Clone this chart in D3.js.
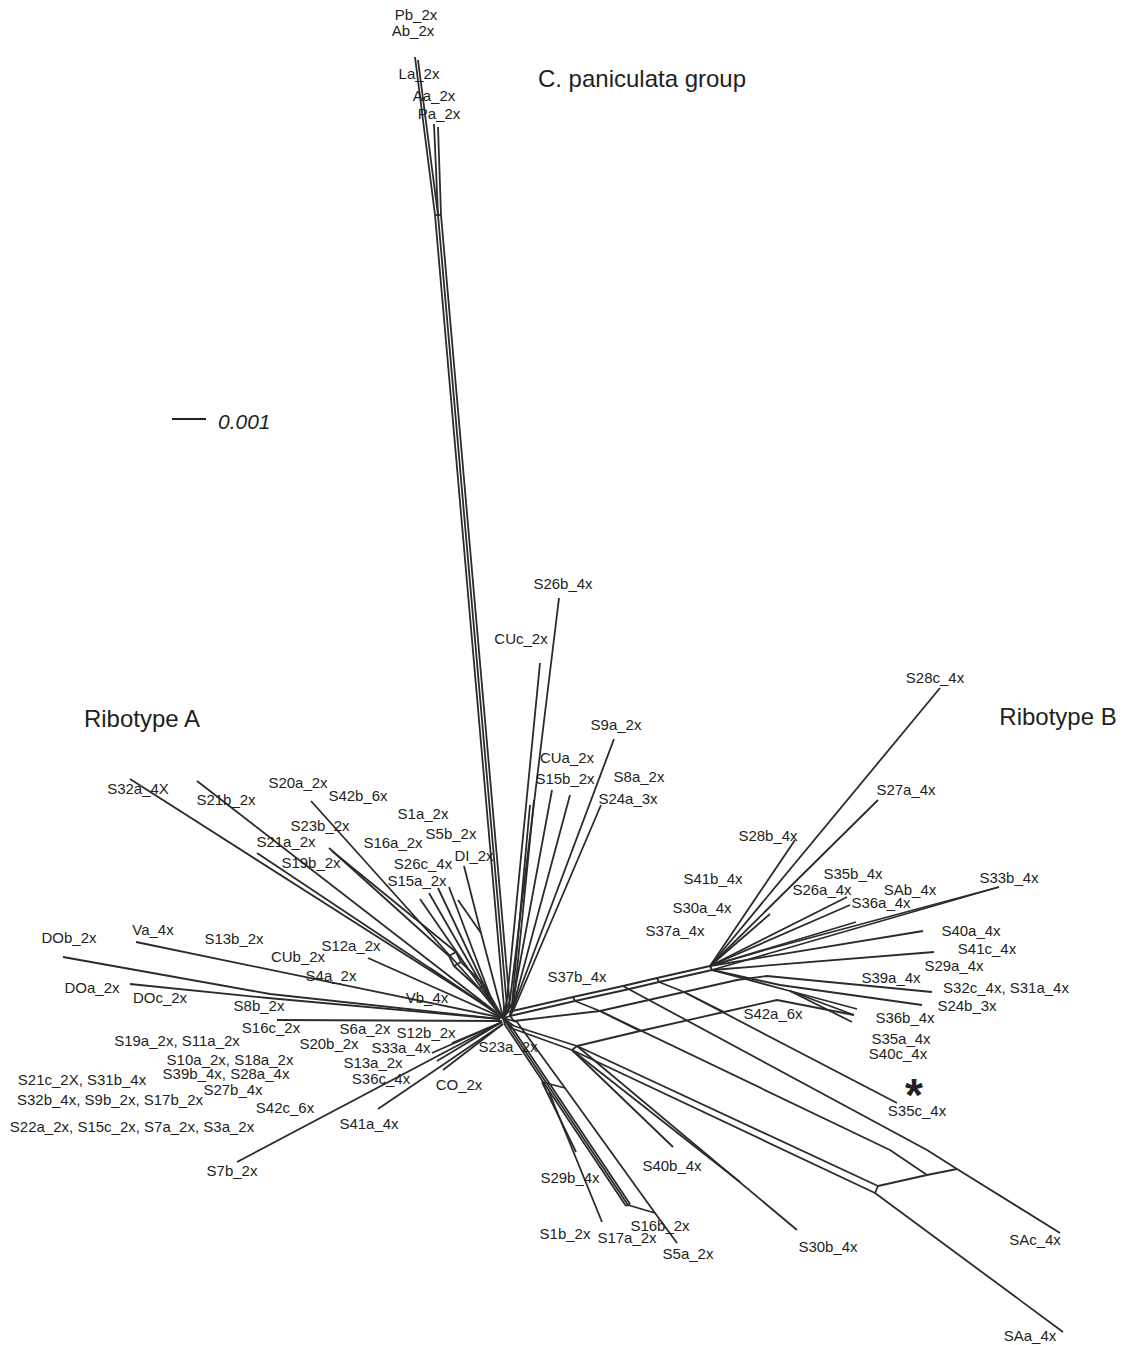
<!DOCTYPE html>
<html>
<head>
<meta charset="utf-8">
<script src="https://cdn.jsdelivr.net/npm/d3@7"></script>
<style>
  body { margin: 0; background: #fff; }
  svg { display: block; }
</style>
</head>
<body>
<script>
// Split network (NeighborNet) of ITS ribotypes.
// Node positions are in layout units centred on the central hub, y pointing up;
// 34 layout units correspond to 0.001 substitutions per site.

const W = 1124, H = 1345;
const unitsPerSubst = 34000;
const scaleBarValue = 0.001;

// ---- nodes: [id, x, y] ----
const hubNodes = [
  ["c0", -2, 0], ["cL", -5, -1], ["cR", 5, 2], ["cUL", -8, 5],
  ["c1", -3, -4], ["c2", -2, -6], ["c3", -3, -3]
];
const paniculataNodes = [
  ["ta0", -1, 11], ["tb0", 2, 11], ["tc0", 5, 11],
  ["ta1", -70, 803], ["tb1", -67, 803], ["tc1", -64, 803],
  ["Pb", -90, 961], ["Ab", -87, 958], ["Aa", -71, 894], ["Pa", -67, 891]
];
const upperNodes = [
  ["cu1", 2, 18], ["cu2", 5, 18], ["cu3", 9, 17], ["cu4", 7, 14], ["cu5", 7, 12],
  ["cu6", 8, 11], ["cu7", 8, 10], ["cu8", 9, 9], ["m26", 29, 218],
  ["CUc", 35, 355], ["S26b", 54, 420], ["CUa", 25, 213], ["S15b", 47, 228],
  ["S8a", 65, 223], ["S9a", 109, 279], ["S24a", 96, 213]
];
const upperLeftNodes = [
  ["S32a", -375, 239], ["S21b", -308, 237], ["S21a", -248, 165],
  ["S20a", -194, 217], ["u20", -27, 31],
  ["S23b", -176, 170], ["S19b", -173, 167],
  ["a1", -56, 62], ["a2", -51, 52], ["a3", -26, 29],
  ["b1", -49, 66], ["b2", -44, 56], ["b3", -21, 33],
  ["S15a", -85, 119], ["S26c", -76, 125], ["S16a", -67, 130], ["S1a", -56, 131], ["u15", -11, 12],
  ["DI", -41, 152], ["uDI", -5, 13], ["dI1", -24, 85], ["dI2", -47, 118]
];
const leftNodes = [
  ["DOb", -442, 61], ["DOa", -375, 34], ["ndo1", -235, 24], ["ndo2", -237, 20],
  ["Va", -369, 76], ["S16c", -228, -2], ["S12a", -137, 60], ["Vb", -75, 50],
  ["S7b", -268, -144], ["S41a", -127, -91], ["CO", -62, -52],
  ["S33a", -73, -35], ["S13a", -68, -43], ["S36c", -53, -25]
];
const bottomNodes = [
  ["bd1", 0, -7], ["bd2", 2, -6], ["bd3", 4, -5],
  ["be1", 121, -188], ["be2", 123, -187], ["be3", 125, -186],
  ["bj1", 37, -64], ["S29b", 71, -134], ["bj2", 44, -74], ["S1b", 97, -204],
  ["s5a0", 12, -4], ["s5a1", 60, -70], ["s5a2", 150, -195], ["S5a", 172, -225]
];
const ribotypeBNodes = [
  ["U0", 3, 6], ["U1", 68, 21], ["U2", 118, 32], ["U3", 152, 40], ["U4", 205, 52],
  ["V0", 5, 2], ["V1", 70, 17], ["V2", 120, 28], ["V3", 154, 36], ["V4", 207, 48],
  ["M0", 9, -3], ["M1", 95, 7], ["M2", 179, 26], ["M3", 232, 38], ["M4", 262, 42],
  ["L0", 9, -8], ["L1", 72, -28], ["L2", 135, -13], ["L3", 219, 6], ["L4", 272, 18],
  ["K0", 6, -10], ["K1", 67, -32],
  ["S35c", 392, -85],
  ["d1", 422, -132], ["d2", 452, -151], ["SAc", 555, -215],
  ["e1", 385, -132], ["e2", 422, -157],
  ["g1", 373, -168], ["g2", 370, -175], ["SAa", 558, -314],
  ["S40b", 168, -129], ["S30b", 292, -212], ["s30m", 235, -164],
  ["S28c", 435, 330], ["S27a", 373, 218], ["S28b", 290, 178], ["S30a", 265, 104],
  ["S26a", 342, 121], ["S36a", 345, 113], ["SAb", 351, 96],
  ["f1", 260, 68], ["f1b", 262, 64], ["S33b", 494, 131],
  ["S40a", 418, 87], ["S41c", 429, 66], ["S32c", 427, 26],
  ["f2", 275, 33], ["S24b", 417, 13],
  ["f3", 285, 27], ["S36b", 352, 9], ["S35a", 349, 3], ["S40c", 347, -4]
];

// ---- split edges drawn as polylines of node ids ----
const paniculataEdges = [
  ["c0", "ta0", "ta1", "Pb"], ["c0", "tb0", "tb1", "Ab"], ["tb1", "Aa"],
  ["c0", "tc0", "tc1", "Pa"], ["ta0", "tc0"], ["ta1", "tc1"]
];
const upperEdges = [
  ["c0", "cu1", "CUc"], ["c0", "cu2", "S26b"], ["cR", "cu3", "m26"], ["c0", "cu4", "CUa"],
  ["cR", "cu5", "S15b"], ["cR", "cu6", "S8a"], ["cR", "cu7", "S9a"], ["cR", "cu8", "S24a"]
];
const upperLeftEdges = [
  ["cUL", "S32a"], ["cUL", "S21b"], ["cUL", "S21a"], ["c0", "u20", "S20a"],
  ["c0", "a3", "a2", "a1", "S23b"], ["c0", "b3", "b2", "b1", "S19b"],
  ["a1", "b1"], ["a2", "b2"], ["a3", "b3"],
  ["c0", "u15"], ["u15", "S15a"], ["u15", "S26c"], ["u15", "S16a"], ["u15", "S1a"],
  ["c0", "uDI", "dI1", "DI"], ["dI1", "dI2"]
];
const leftEdges = [
  ["cL", "ndo1", "DOb"], ["cL", "ndo2", "DOa"], ["c0", "Va"], ["c3", "S16c"],
  ["c0", "S12a"], ["c0", "Vb"],
  ["c1", "S7b"], ["c2", "S41a"], ["c2", "CO"], ["c1", "S33a"], ["c1", "S13a"], ["c1", "S36c"]
];
const bottomEdges = [
  ["c0", "bd1", "be1"], ["c0", "bd2", "be2"], ["c0", "bd3", "be3"], ["be1", "be3"],
  ["bj1", "S29b"], ["bj2", "S1b"],
  ["c0", "s5a0", "s5a1", "s5a2", "S5a"], ["bj1", "s5a1"], ["be2", "s5a2"]
];
const ribotypeBEdges = [
  ["c0", "U0", "U1", "U2", "U3", "U4"], ["c0", "V0", "V1", "V2", "V3", "V4"],
  ["U1", "V1"], ["U3", "V3"], ["U4", "V4"],
  ["cR", "M0", "M1", "M2", "M3", "M4", "S32c"],
  ["c0", "L0", "L1", "L2", "L3", "L4", "S35a"], ["c0", "K0", "K1"], ["L1", "K1"],
  ["V1", "M1"], ["V3", "M2"], ["M1", "L2"], ["M2", "L3"],
  ["M2", "S35c"],
  ["U2", "d1", "d2", "SAc"], ["M1", "e1", "e2"], ["g1", "e2", "d2"],
  ["L1", "g1"], ["K1", "g2", "SAa"], ["g1", "g2"],
  ["K1", "S40b"], ["L1", "S30b"], ["K1", "s30m"],
  ["U4", "S28c"], ["U4", "S27a"], ["U4", "S28b"], ["U4", "S30a"],
  ["U4", "S26a"], ["U4", "S36a"], ["U4", "SAb"],
  ["U4", "f1", "S33b"], ["V4", "f1b", "S33b"],
  ["U4", "S40a"], ["V4", "S41c"],
  ["V4", "f2", "S24b"], ["V4", "f3", "S36b"], ["f3", "S35a"], ["f3", "S40c"]
];

// ---- taxon labels: [text, x, y] (label centre) ----
const taxonLabels = [
  ["Pb_2x", -89, 1003], ["Ab_2x", -92, 987], ["La_2x", -86, 944], ["Aa_2x", -71, 922], ["Pa_2x", -66, 904],
  ["S26b_4x", 58, 434], ["CUc_2x", 16, 379], ["S9a_2x", 111, 293], ["CUa_2x", 62, 260],
  ["S15b_2x", 60, 239], ["S8a_2x", 134, 241], ["S24a_3x", 123, 219],
  ["S28c_4x", 430, 340], ["S27a_4x", 401, 228], ["S28b_4x", 263, 182], ["S41b_4x", 208, 139],
  ["S35b_4x", 348, 144], ["S26a_4x", 317, 128], ["SAb_4x", 405, 128], ["S36a_4x", 376, 115],
  ["S33b_4x", 504, 140], ["S30a_4x", 197, 110], ["S37a_4x", 170, 87], ["S40a_4x", 466, 87],
  ["S41c_4x", 482, 69], ["S29a_4x", 449, 52], ["S39a_4x", 386, 40], ["S32c_4x, S31a_4x", 501, 30],
  ["S24b_3x", 462, 12], ["S42a_6x", 268, 4], ["S36b_4x", 400, 0], ["S35a_4x", 396, -21],
  ["S40c_4x", 393, -36], ["S35c_4x", 412, -93], ["S37b_4x", 72, 41],
  ["SAc_4x", 530, -222], ["SAa_4x", 525, -318], ["S30b_4x", 323, -229], ["S40b_4x", 167, -148],
  ["S29b_4x", 65, -160], ["S1b_2x", 60, -216], ["S16b_2x", 155, -208], ["S17a_2x", 122, -220],
  ["S5a_2x", 183, -236],
  ["S32a_4X", -367, 229], ["S21b_2x", -279, 218], ["S20a_2x", -207, 235], ["S42b_6x", -147, 222],
  ["S23b_2x", -185, 192], ["S21a_2x", -219, 176], ["S19b_2x", -194, 155], ["S1a_2x", -82, 204],
  ["S16a_2x", -112, 175], ["S5b_2x", -54, 184], ["S26c_4x", -82, 154], ["DI_2x", -31, 162],
  ["S15a_2x", -88, 137],
  ["DOb_2x", -436, 80], ["Va_4x", -352, 88], ["S13b_2x", -271, 79], ["CUb_2x", -207, 61],
  ["S12a_2x", -154, 72], ["S4a_2x", -174, 42], ["DOa_2x", -413, 30], ["DOc_2x", -345, 20],
  ["S8b_2x", -246, 12], ["Vb_4x", -78, 20], ["S16c_2x", -234, -10], ["S6a_2x", -140, -11],
  ["S12b_2x", -79, -15], ["S19a_2x, S11a_2x", -328, -23], ["S20b_2x", -176, -26],
  ["S33a_4x", -104, -30], ["S23a_2x", 3, -29], ["S10a_2x, S18a_2x", -275, -42],
  ["S13a_2x", -132, -45], ["S39b_4x, S28a_4x", -279, -56], ["S21c_2X, S31b_4x", -423, -62],
  ["S36c_4x", -124, -61], ["CO_2x", -46, -67], ["S27b_4x", -272, -72],
  ["S32b_4x, S9b_2x, S17b_2x", -395, -82], ["S42c_6x", -220, -90], ["S41a_4x", -136, -106],
  ["S22a_2x, S15c_2x, S7a_2x, S3a_2x", -373, -109], ["S7b_2x", -273, -153]
];
const groupLabels = [
  ["C. paniculata group", 137, 940],
  ["Ribotype A", -363, 300],
  ["Ribotype B", 553, 302]
];
const markerLabels = [["*", 409, -70]];
const scaleBarAnchor = [-333, 599];

// ---- scales ----
const x = d3.scaleLinear().domain([-505, 619]).range([0, W]);
const y = d3.scaleLinear().domain([1018, -327]).range([0, H]);

const nodeMap = new Map(
  [...hubNodes, ...paniculataNodes, ...upperNodes, ...upperLeftNodes,
   ...leftNodes, ...bottomNodes, ...ribotypeBNodes].map(([id, nx, ny]) => [id, [nx, ny]])
);
const edges = [...paniculataEdges, ...upperEdges, ...upperLeftEdges,
               ...leftEdges, ...bottomEdges, ...ribotypeBEdges];

const svg = d3.select("body").append("svg")
  .attr("width", W).attr("height", H)
  .attr("viewBox", `0 0 ${W} ${H}`);

const line = d3.line()
  .x(id => x(nodeMap.get(id)[0]))
  .y(id => y(nodeMap.get(id)[1]));

svg.append("g")
  .attr("fill", "none")
  .attr("stroke", "#2b2b2b")
  .attr("stroke-width", 1.8)
  .attr("stroke-linejoin", "round")
  .attr("stroke-linecap", "butt")
  .selectAll("path")
  .data(edges)
  .join("path")
  .attr("d", line);

const font = "'Liberation Sans', Arial, Helvetica, sans-serif";

svg.append("g")
  .attr("font-family", font)
  .attr("font-size", 15)
  .attr("fill", "#231f20")
  .attr("text-anchor", "middle")
  .selectAll("text")
  .data(taxonLabels)
  .join("text")
  .attr("x", d => x(d[1]))
  .attr("y", d => y(d[2]))
  .attr("dy", "0.36em")
  .text(d => d[0]);

svg.append("g")
  .attr("font-family", font)
  .attr("font-size", 24)
  .attr("fill", "#231f20")
  .attr("text-anchor", "middle")
  .selectAll("text")
  .data(groupLabels)
  .join("text")
  .attr("x", d => x(d[1]))
  .attr("y", d => y(d[2]))
  .attr("dy", "0.36em")
  .text(d => d[0]);

svg.append("g")
  .attr("font-family", font)
  .attr("font-size", 46)
  .attr("font-weight", "bold")
  .attr("fill", "#231f20")
  .attr("text-anchor", "middle")
  .selectAll("text")
  .data(markerLabels)
  .join("text")
  .attr("x", d => x(d[1]))
  .attr("y", d => y(d[2]))
  .attr("dy", "0.5em")
  .text(d => d[0]);

// scale bar
const sb = svg.append("g");
const sbX0 = scaleBarAnchor[0], sbY = scaleBarAnchor[1];
const sbX1 = sbX0 + scaleBarValue * unitsPerSubst;
sb.append("line")
  .attr("x1", x(sbX0)).attr("x2", x(sbX1))
  .attr("y1", y(sbY)).attr("y2", y(sbY))
  .attr("stroke", "#231f20").attr("stroke-width", 2);
sb.append("text")
  .attr("x", x(sbX1) + 12).attr("y", y(sbY) + 2)
  .attr("dy", "0.36em")
  .attr("font-family", font)
  .attr("font-size", 21)
  .attr("font-style", "italic")
  .attr("fill", "#231f20")
  .text(d3.format(".3f")(scaleBarValue));
</script>
</body>
</html>
